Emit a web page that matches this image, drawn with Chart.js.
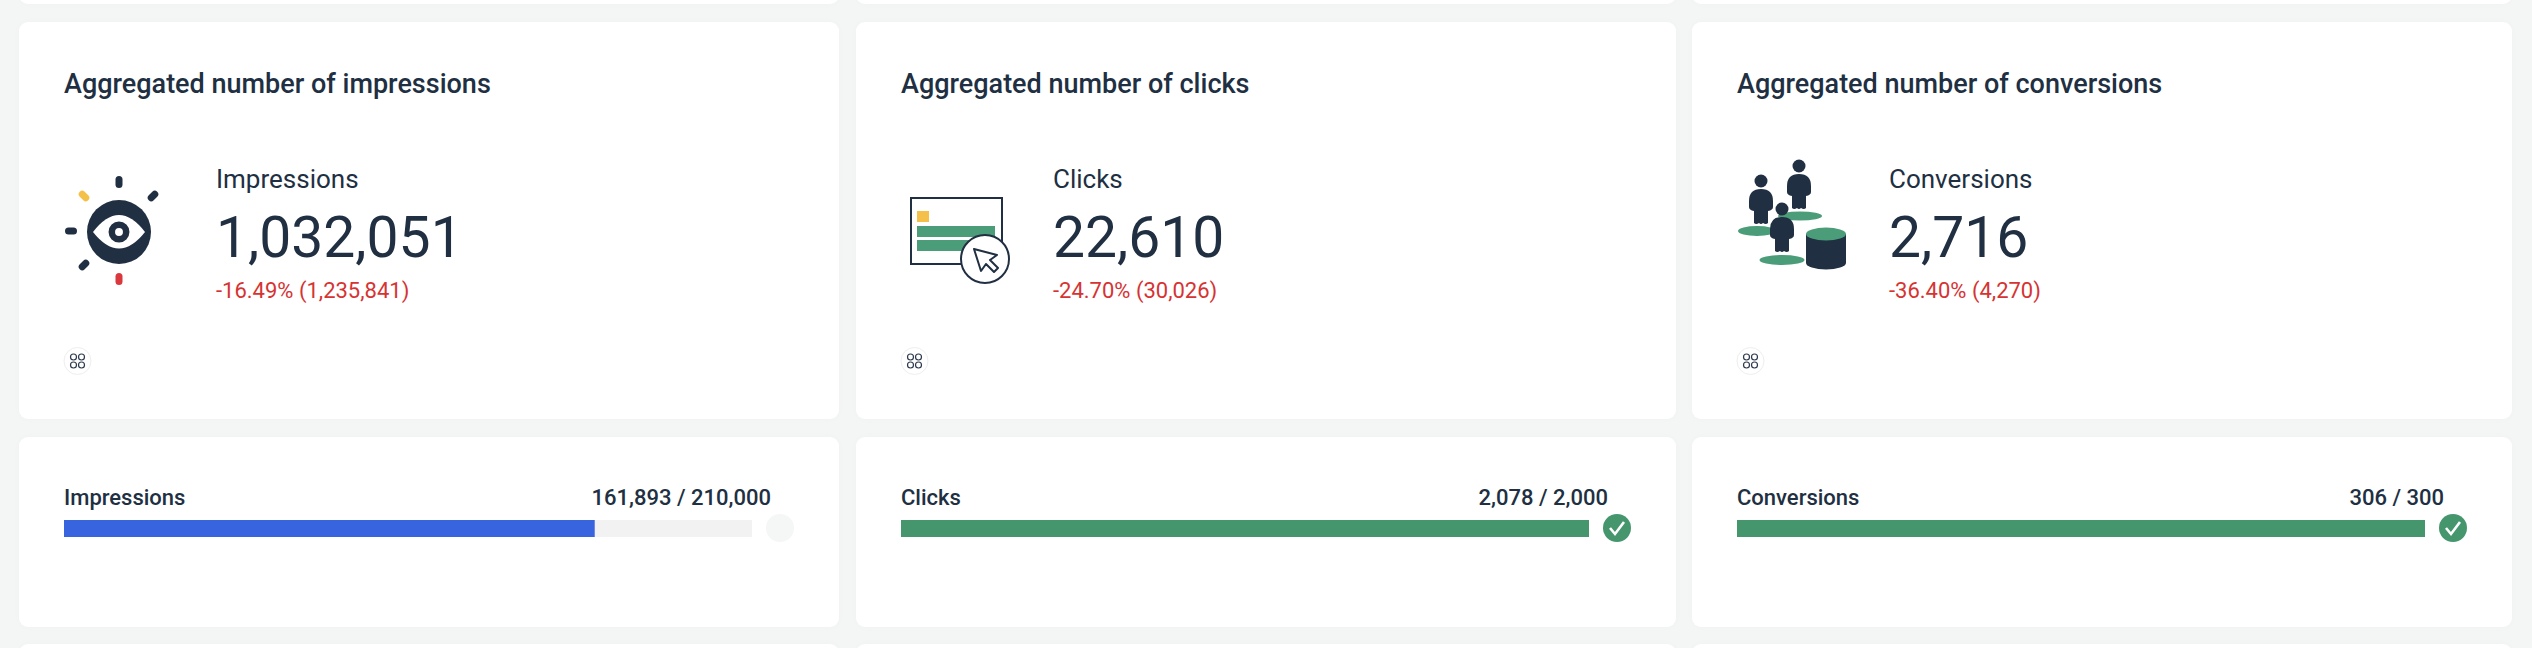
<!DOCTYPE html>
<html>
<head>
<meta charset="utf-8">
<script src="https://cdn.jsdelivr.net/npm/chart.js@4"></script>
<style>
html, body { margin:0; padding:0; width:2532px; height:648px; overflow:hidden; background:#f4f5f5; }
body { position:relative; font-family:Roboto, sans-serif; color:#212f42; }
.card { position:absolute; width:820px; background:#fff; border-radius:9px; box-shadow:0 0 10px rgba(0,0,0,0.018); }
.c0 { left:19px; } .c1 { left:856px; } .c2 { left:1692px; }
.strip { top:-40px; height:44px; }
.kpi { top:22px; height:397px; }
.goal { top:437px; height:190px; }
.next { top:644px; height:40px; }
.abs { position:absolute; white-space:nowrap; }
.title { left:45px; top:44px; font-size:27px; line-height:36px; font-weight:500; }
.metric { left:197px; top:139px; font-size:26px; line-height:36px; }
.big { left:197px; top:180px; font-size:57px; line-height:72px; }
.delta { left:197px; top:254px; font-size:22px; line-height:30px; color:#d63333; }
.goal-name { left:45px; top:46px; font-size:22px; line-height:30px; font-weight:500; }
.goal-val { right:68px; top:46px; font-size:22px; line-height:30px; font-weight:500; }
.bar { position:absolute; left:45px; top:83px; width:688px; height:17px; }
svg { position:absolute; overflow:visible; }
</style>
</head>
<body>
<script>
/* DATA */
const titles = ["Aggregated number of impressions", "Aggregated number of clicks", "Aggregated number of conversions"];
const metrics = ["Impressions", "Clicks", "Conversions"];
const totals = [1032051, 22610, 2716];
const changes = ["-16.49%", "-24.70%", "-36.40%"];
const previous = [1235841, 30026, 4270];
const goalValues = [161893, 2078, 306];
const goalTargets = [210000, 2000, 300];

const fmt = n => n.toLocaleString("en-US");

const DARK = "#212f42", GREEN = "#4a9d78", BAR_GREEN = "#45966d", BLUE = "#3864e0", TRACK = "#f2f2f2";

/* ICONS (viewBox is in card pixels) */
function tick(x, y, deg, color) {
  return `<rect x="${x-3.5}" y="${y-6}" width="7" height="12" rx="3.5" fill="${color}" transform="rotate(${deg} ${x} ${y})"/>`;
}
const eyeIcon = `<svg style="left:0;top:0" width="190" height="320">
  <circle cx="100" cy="210" r="32" fill="${DARK}"/>
  <path d="M74 210 Q100 176 126 210 Q100 243 74 210Z" fill="#fff"/>
  <circle cx="100" cy="210" r="7.2" fill="#fff" stroke="${DARK}" stroke-width="6.5"/>
  ${tick(100,160,0,DARK)}${tick(134,174,45,DARK)}${tick(65,174,-45,"#f5c04a")}
  ${tick(52,209,90,DARK)}${tick(65,243,45,DARK)}${tick(100,257,0,"#d9383d")}
</svg>`;
const clickIcon = `<svg style="left:0;top:0" width="190" height="320">
  <rect x="55" y="176" width="91" height="66" fill="#fff" stroke="${DARK}" stroke-width="2"/>
  <rect x="61" y="189" width="12" height="11" fill="#f5c04a"/>
  <rect x="61" y="204" width="78" height="11" fill="${GREEN}"/>
  <rect x="61" y="218" width="78" height="11" fill="${GREEN}"/>
  <circle cx="129" cy="237" r="24" fill="#fff" stroke="${DARK}" stroke-width="2"/>
  <path d="M118 227 L141 233 L134 238 L142 246 L138 250 L130 242 L125 249Z" fill="#fff" stroke="${DARK}" stroke-width="2" stroke-linejoin="round"/>
</svg>`;
function person(x, y) {
  return `<g transform="translate(${x} ${y})" fill="${DARK}">
    <circle cx="0" cy="-6" r="6.5"/>
    <path d="M-12 14 Q-12 2 0 2 Q12 2 12 14 L12 20 Q12 23 7 24 L7 36 Q5 38 2 36 Q0 38 -2 36 Q-5 38 -7 36 L-7 24 Q-12 23 -12 20Z"/>
  </g>`;
}
const peopleIcon = `<svg style="left:0;top:0" width="190" height="320">
  <ellipse cx="65" cy="209" rx="19" ry="5" fill="${GREEN}"/>
  <ellipse cx="108" cy="194" rx="22" ry="4.5" fill="${GREEN}"/>
  <ellipse cx="90" cy="238" rx="22.5" ry="5" fill="${GREEN}"/>
  ${person(69,165)}${person(107,150)}${person(90,193)}
  <path d="M114 212 V241 A20 6.5 0 0 0 154 241 V212Z" fill="${DARK}"/>
  <ellipse cx="134" cy="212" rx="20" ry="6.5" fill="${GREEN}"/>
</svg>`;
const icons = [eyeIcon, clickIcon, peopleIcon];

const boardIcon = `<svg style="left:0;top:0" width="100" height="400">
  <circle cx="58.5" cy="339" r="13.5" fill="#fff" stroke="#eeeeee"/>
  <g fill="none" stroke="#2f3c4f" stroke-width="1.2">
    <circle cx="54.5" cy="335" r="3"/><circle cx="62.5" cy="335" r="3"/>
    <circle cx="54.5" cy="343" r="3"/><circle cx="62.5" cy="343" r="3"/>
  </g>
</svg>`;
const doneIcon = `<svg style="left:0;top:0" width="820" height="190">
  <circle cx="761" cy="91" r="14" fill="${BAR_GREEN}"/>
  <path d="M754 91 L759 97 L768 85" fill="none" stroke="#fff" stroke-width="2.6"/>
</svg>`;
const openIcon = `<svg style="left:0;top:0" width="820" height="190">
  <circle cx="761" cy="91" r="14" fill="#f5f6f6"/>
</svg>`;

/* CARDS */
function addCard(cls, html) {
  const el = document.createElement("div");
  el.className = "card " + cls;
  el.innerHTML = html;
  document.body.appendChild(el);
  return el;
}

metrics.forEach((name, i) => {
  addCard(`c${i} strip`, "");
  addCard(`c${i} next`, "");

  addCard(`c${i} kpi`, `
    <div class="abs title">${titles[i]}</div>
    ${icons[i]}
    <div class="abs metric">${name}</div>
    <div class="abs big">${fmt(totals[i])}</div>
    <div class="abs delta">${changes[i]} (${fmt(previous[i])})</div>
    ${boardIcon}`);

  const done = goalValues[i] >= goalTargets[i];
  const goal = addCard(`c${i} goal`, `
    <div class="abs goal-name">${name}</div>
    <div class="abs goal-val">${fmt(goalValues[i])} / ${fmt(goalTargets[i])}</div>
    <div class="bar"><canvas width="688" height="17"></canvas></div>
    ${done ? doneIcon : openIcon}`);

  /* PROGRESS BAR */
  new Chart(goal.querySelector("canvas"), {
    type: "bar",
    data: {
      labels: [name],
      datasets: [
        { data: [goalValues[i]], backgroundColor: done ? BAR_GREEN : BLUE, order: 0 },
        { data: [goalTargets[i]], backgroundColor: TRACK, order: 1 }
      ]
    },
    options: {
      indexAxis: "y",
      responsive: false,
      animation: false,
      layout: { padding: 0 },
      datasets: { bar: { grouped: false, barPercentage: 1, categoryPercentage: 1 } },
      plugins: { legend: { display: false }, tooltip: { enabled: false } },
      scales: {
        x: { display: false, min: 0, max: goalTargets[i] },
        y: { display: false }
      }
    }
  });
});
</script>
</body>
</html>
